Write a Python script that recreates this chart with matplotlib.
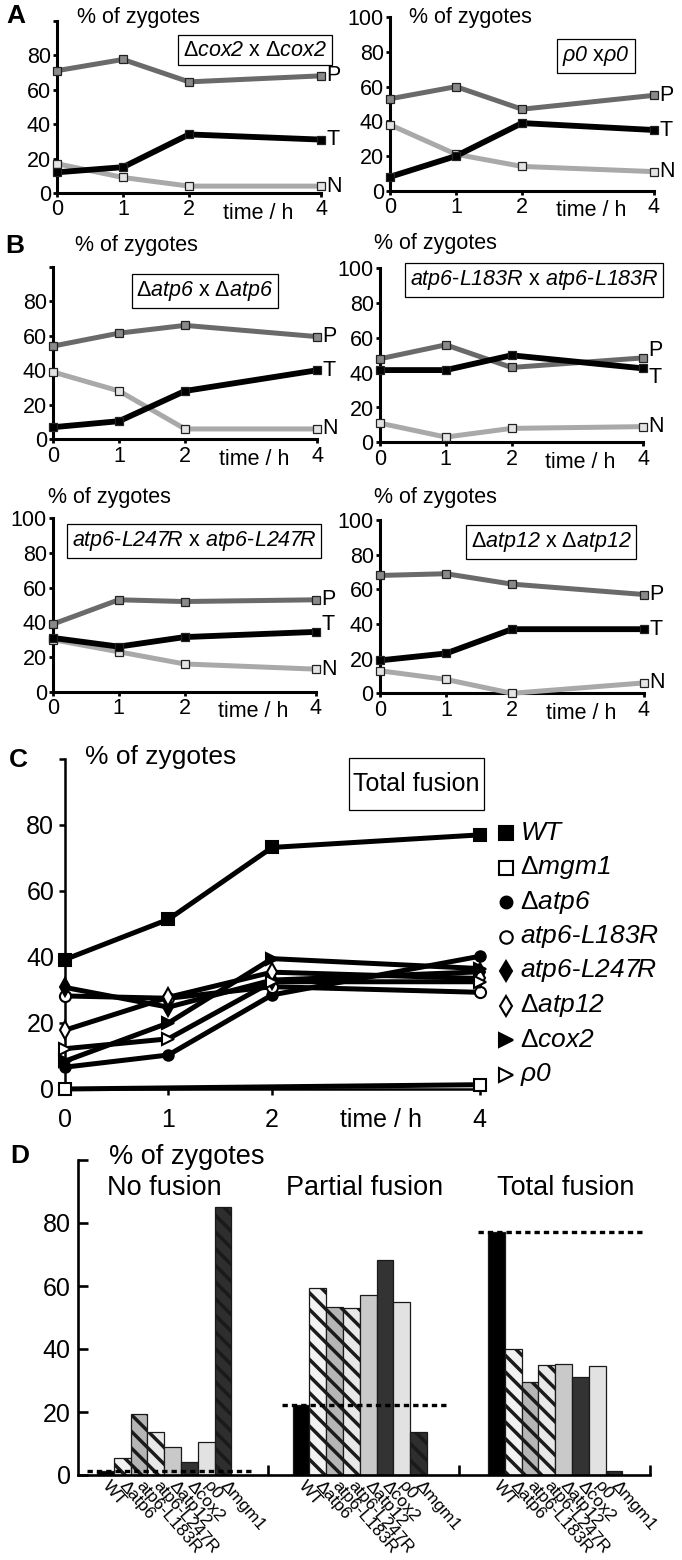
import matplotlib
matplotlib.use("Agg")
import matplotlib.pyplot as plt
from matplotlib.lines import Line2D
from matplotlib.patches import Rectangle
import numpy as np

plt.rcParams['font.family'] = ['Liberation Sans', 'DejaVu Sans']
plt.rcParams['mathtext.fontset'] = 'custom'
plt.rcParams['mathtext.rm'] = 'Liberation Sans'
plt.rcParams['mathtext.it'] = 'Liberation Sans:italic'
# \mathsf is used as "italic incl. digits" (mathtext.it keeps digits upright)
plt.rcParams['mathtext.sf'] = 'Liberation Sans:italic'
plt.rcParams['hatch.linewidth'] = 2.5

# --------------------------------------------------------------------------------------------------
# data
# --------------------------------------------------------------------------------------------------
time_h = [0, 1, 2, 4]

# panels A/B: P = partial, T = total, N = no fusion (% of zygotes)
cox2_P = [71, 77.5, 64.5, 68]
cox2_T = [12, 15, 34, 31]
cox2_N = [17, 9, 4, 4]
rho0_P = [53, 60, 47, 55]
rho0_T = [8, 20, 39, 35]
rho0_N = [38, 21, 14, 11]
atp6_P = [54, 61.5, 66, 59.5]
atp6_T = [7, 10.5, 28, 40]
atp6_N = [39, 28, 6, 6]
l183r_P = [48, 56, 43, 48.5]
l183r_T = [41.5, 41.5, 50, 42.5]
l183r_N = [11, 3, 8, 9]
l247r_P = [39, 53, 52, 53]
l247r_T = [31, 26, 31.5, 34.5]
l247r_N = [30, 23, 16, 13]
atp12_P = [68, 69, 63, 57]
atp12_T = [19, 23, 37, 37]
atp12_N = [13, 8, 0, 6]

# panel C: total fusion
c_wt = [39.2, 51.4, 73.2, 77]
c_mgm1_time = [0, 4]
c_mgm1 = [0, 1.3]
c_atp6 = [6.6, 10.3, 28.5, 40.2]
c_l183r = [28.2, 27.5, 31, 29.3]
c_l247r = [30.8, 24.8, 33, 35.5]
c_atp12 = [17.8, 27.8, 35.4, 33.5]
c_cox2 = [8.4, 20, 39.5, 36.5]
c_rho0 = [12.2, 15.2, 32.5, 32.5]

# panel D
genotypes = ['WT', 'Δatp6', 'atp6-L183R', 'atp6-L247R', 'Δatp12', 'Δcox2', 'ρ0', 'Δmgm1']
no_fusion = [1.3, 5.5, 19.4, 13.5, 9, 4.2, 10.5, 85]
partial_fusion = [22.2, 59.5, 53.3, 52.9, 57.2, 68.2, 55, 13.5]
total_fusion = [77, 40, 29.4, 34.9, 35.2, 31.2, 34.5, 1.4]
group_titles = ['No fusion', 'Partial fusion', 'Total fusion']

# --------------------------------------------------------------------------------------------------
W, H = 682, 1560
fig = plt.figure(figsize=(W / 100, H / 100), dpi=100)


def px_axes(left, right, top, bottom):
    return fig.add_axes([left / W, 1 - bottom / H, (right - left) / W, (bottom - top) / H])


def ftext(x, y, s, **kw):
    return fig.text(x / W, 1 - y / H, s, **kw)


def clean_spines(ax, lw):
    for s in ['top', 'right']:
        ax.spines[s].set_visible(False)
    for s in ['left', 'bottom']:
        ax.spines[s].set_linewidth(lw)


# --------------------------------------------------------------------------------------------------
# panels A and B
# --------------------------------------------------------------------------------------------------
FS = 15.5
kin = [
    # left, x4, y100, y0, P, T, N, box text, box centre, show 100, label offsets (P, T, N), ylabel pos
    (57, 321, 20.7, 193, cox2_P, cox2_T, cox2_N, r'Δ$\mathsf{cox2}$ x Δ$\mathsf{cox2}$',
     (255, 50), False, (0, 0, 0), (77, 17)),
    (390, 654, 17.3, 190.7, rho0_P, rho0_T, rho0_N, r'$\rho\mathsf{0}$ x$\rho\mathsf{0}$',
     (596, 56), True, (0, 0, 0), (409, 17)),
    (53, 317, 266.7, 439.3, atp6_P, atp6_T, atp6_N, r'Δ$\mathsf{atp6}$ x Δ$\mathsf{atp6}$',
     (205, 291), False, (0, 0, 0), (75, 245)),
    (380, 643, 268.3, 442.3, l183r_P, l183r_T, l183r_N,
     r'$\mathsf{atp6}$-$\mathsf{L183R}$ x $\mathsf{atp6}$-$\mathsf{L183R}$',
     (534, 280), True, (4, -5, 0), (374, 243)),
    (53, 316, 518.3, 691.7, l247r_P, l247r_T, l247r_N,
     r'$\mathsf{atp6}$-$\mathsf{L247R}$ x $\mathsf{atp6}$-$\mathsf{L247R}$',
     (194, 541), True, (0, 4, 0), (48, 498)),
    (380, 644, 520, 693.3, atp12_P, atp12_T, atp12_N, r'Δ$\mathsf{atp12}$ x Δ$\mathsf{atp12}$',
     (551, 542), True, (0, 0, 0), (374, 498)),
]

for left, x4, y100, y0, P, T, N, box, boxc, show100, loff, ylab in kin:
    ax = px_axes(left, x4, y100, y0)
    ax.set_xlim(0, 4)
    ax.set_ylim(0, 100)
    clean_spines(ax, 2.2)
    for vals, lc, fc, name, off, lw in [(P, '#6a6a6a', '#8a8a8a', 'P', loff[0], 3.6),
                                        (N, '#a9a9a9', '#e4e4e4', 'N', loff[2], 3.6),
                                        (T, 'black', 'black', 'T', loff[1], 4.2)]:
        ax.plot(time_h, vals, color=lc, lw=lw, marker='s', ms=6.4, mfc=fc,
                mec='#222222', mew=0.9, clip_on=False, zorder=3)
        ax.annotate(name, xy=(time_h[-1], vals[-1] + off), xytext=(4, 0),
                    textcoords='offset points', ha='left', va='center',
                    fontsize=FS, annotation_clip=False)
    ax.set_xticks(time_h)
    ax.set_xticklabels([str(t) for t in time_h])
    ax.set_yticks([0, 20, 40, 60, 80, 100])
    ax.set_yticklabels(['0', '20', '40', '60', '80', '100' if show100 else ''])
    ax.tick_params(labelsize=FS, length=3, width=2, pad=1.5)
    ax.annotate('time / h', xy=(3.05, 0), xytext=(0, -7), textcoords='offset points',
                ha='center', va='top', fontsize=FS, annotation_clip=False)
    ftext(boxc[0], boxc[1], box, ha='center', va='center', fontsize=FS,
          bbox=dict(boxstyle='square,pad=0.22', fc='white', ec='black', lw=0.9))
    ftext(ylab[0], ylab[1], '% of zygotes', ha='left', va='center', fontsize=FS)

ftext(16, 16, 'A', ha='center', va='center', fontsize=19, fontweight='bold')
ftext(15, 246, 'B', ha='center', va='center', fontsize=19, fontweight='bold')

# --------------------------------------------------------------------------------------------------
# panel C
# --------------------------------------------------------------------------------------------------
FC = 18
axc = px_axes(64.6, 479.5, 759, 1089)
axc.set_xlim(0, 4)
axc.set_ylim(0, 100)
clean_spines(axc, 1.8)

c_series = [
    (c_mgm1_time, c_mgm1, 's', 'white', 8.5, r'Δ$\mathsf{mgm1}$'),
    (time_h, c_atp6, 'o', 'black', 7.5, r'Δ$\mathsf{atp6}$'),
    (time_h, c_l183r, 'o', 'white', 8, r'$\mathsf{atp6}$-$\mathsf{L183R}$'),
    (time_h, c_l247r, 'd', 'black', 9, r'$\mathsf{atp6}$-$\mathsf{L247R}$'),
    (time_h, c_atp12, 'd', 'white', 9, r'Δ$\mathsf{atp12}$'),
    (time_h, c_cox2, '>', 'black', 9, r'Δ$\mathsf{cox2}$'),
    (time_h, c_rho0, '>', 'white', 9, r'$\rho\mathsf{0}$'),
    (time_h, c_wt, 's', 'black', 9, r'$\mathsf{WT}$'),
]
for tt, vals, mk, fc, ms, lab in c_series:
    axc.plot(tt, vals, color='black', lw=3.6, marker=mk, ms=ms, mfc=fc, mec='black',
             mew=1.5, clip_on=False, zorder=3)

axc.set_xticks(time_h)
axc.set_xticklabels([str(t) for t in time_h])
axc.set_yticks([0, 20, 40, 60, 80, 100])
axc.set_yticklabels(['0', '20', '40', '60', '80', ''])
axc.tick_params(labelsize=FC, length=4, width=1.8)
axc.tick_params(axis='x', pad=10)
axc.annotate('time / h', xy=(3.05, 0), xytext=(0, -14), textcoords='offset points',
             ha='center', va='top', fontsize=FC, annotation_clip=False)

# legend (order as in the figure)
legend_order = [7, 0, 1, 2, 3, 4, 5, 6]
for i, k in enumerate(legend_order):
    tt, vals, mk, fc, ms, lab = c_series[k]
    y = 833 + i * 34.5
    fig.add_artist(Line2D([506 / W], [1 - y / H], transform=fig.transFigure, marker=mk,
                          ms=ms + 1, mfc=fc, mec='black', mew=1.5, ls='none'))
    ftext(520, y, lab, ha='left', va='center', fontsize=19)

fig.add_artist(Rectangle((349 / W, 1 - 810 / H), 135 / W, 52 / H, transform=fig.transFigure,
                         fc='white', ec='black', lw=0.9))
ftext(416.5, 784, 'Total fusion', ha='center', va='center', fontsize=FC)
ftext(85, 757, '% of zygotes', ha='left', va='center', fontsize=19)
ftext(18, 760, 'C', ha='center', va='center', fontsize=19, fontweight='bold')

# --------------------------------------------------------------------------------------------------
# panel D
# --------------------------------------------------------------------------------------------------
axd = px_axes(77.7, 650, 1160, 1475)
group_step = 11.64
first_bar = 1.15
axd.set_xlim(0, 34.07)
axd.set_ylim(0, 100)
clean_spines(axd, 1.9)

bar_faces = ['black', '#f2f2f2', '#b5b5b5', '#e8e8e8', '#c9c9c9', '#333333', '#e2e2e2', '#2e2e2e']
bar_hatch = [None, '\\\\', '\\\\', '\\\\', None, None, None, '\\\\']

centers = []
for g, vals in enumerate([no_fusion, partial_fusion, total_fusion]):
    start = first_bar + g * group_step
    x = start + np.arange(len(vals)) + 0.5
    centers.extend(x)
    bars = axd.bar(x, vals, width=1.0, color=bar_faces, edgecolor='#1a1a1a', lw=0.9, zorder=2)
    for b, h in zip(bars, bar_hatch):
        if h:
            b.set_hatch(h)
    # dotted reference line at the WT level of each class
    axd.hlines(vals[0], start - 0.6, start + 9.2, colors='black', lw=2.4,
               linestyles=(0, (1.6, 1.2)), zorder=4)

axd.set_xticks(centers)
axd.set_xticklabels(genotypes * 3, rotation=-49, ha='left', va='center',
                    rotation_mode='anchor', fontsize=12.5)
axd.tick_params(axis='x', which='major', length=0, pad=6)
axd.set_xticks([11.3, 22.7, 34.07], minor=True)
axd.tick_params(axis='x', which='minor', direction='in', length=7, width=1.9)
axd.set_yticks([0, 20, 40, 60, 80, 100])
axd.set_yticklabels(['0', '20', '40', '60', '80', ''])
axd.tick_params(axis='y', direction='in', length=7, width=1.9, labelsize=FC, pad=5)

ftext(109, 1157, '% of zygotes', ha='left', va='center', fontsize=19.5)
for title, xc in zip(group_titles, [164, 365, 566]):
    ftext(xc, 1188, title, ha='center', va='center', fontsize=19.5)
ftext(20, 1156, 'D', ha='center', va='center', fontsize=19, fontweight='bold')

fig.savefig('out.png', dpi=100)
